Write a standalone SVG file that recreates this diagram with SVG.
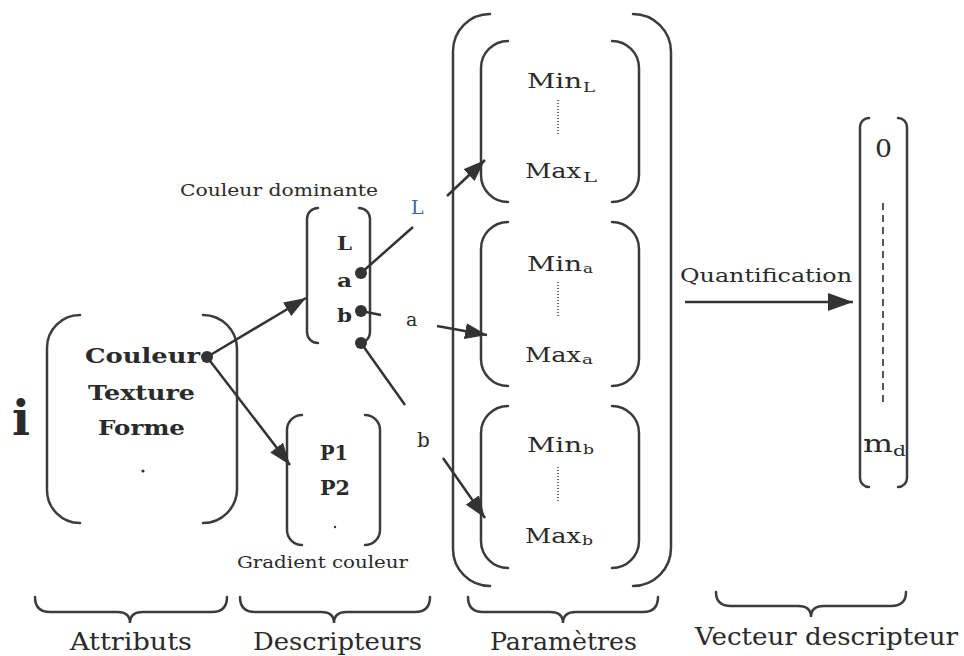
<svg xmlns="http://www.w3.org/2000/svg" width="964" height="656" viewBox="0 0 964 656">
  <defs>
    <style>
      .br { fill: none; stroke: #3c3c3c; stroke-width: 2.5; stroke-linecap: round; }
      .ln { fill: none; stroke: #333; stroke-width: 2.5; }
      .t  { font-family: "DejaVu Serif", "Liberation Serif", serif; fill: #2a2a2a; }
      .b  { font-weight: bold; }
      .dot { fill: #333; }
      .dots { stroke: #444; stroke-width: 1.6; stroke-dasharray: 1 2; }
    </style>
    <marker id="ah" markerUnits="userSpaceOnUse" markerWidth="24" markerHeight="16" refX="22" refY="8" orient="auto">
      <path d="M0,0 L22,8 L0,16 z" fill="#333"/>
    </marker>
    <marker id="ah2" markerUnits="userSpaceOnUse" markerWidth="26" markerHeight="18" refX="25" refY="9" orient="auto">
      <path d="M0,0 L25,9 L0,18 z" fill="#333"/>
    </marker>
  </defs>

  <rect width="964" height="656" fill="#fff"/>

  <!-- image symbol -->
  <text id="image-i" class="t b" x="12" y="435" font-size="48" textLength="18" lengthAdjust="spacingAndGlyphs">i</text>

  <!-- attribute vector -->
  <g id="attributs">
    <path class="br" d="M80,315 A33,33 0 0 0 47,348 V490 A33,33 0 0 0 80,523"/>
    <path class="br" d="M203,315 A34,34 0 0 1 237,349 V489 A34,34 0 0 1 203,523"/>
    <text class="t b" x="85" y="363" font-size="21" textLength="115" lengthAdjust="spacingAndGlyphs">Couleur</text>
    <text class="t b" x="88" y="400" font-size="21" textLength="107" lengthAdjust="spacingAndGlyphs">Texture</text>
    <text class="t b" x="98" y="435" font-size="21" textLength="87" lengthAdjust="spacingAndGlyphs">Forme</text>
    <circle class="dot" cx="143" cy="471" r="1.6"/>
  </g>

  <!-- dominant colour descriptor -->
  <g id="couleur-dominante">
    <text class="t" x="180" y="196" font-size="17" textLength="198" lengthAdjust="spacingAndGlyphs">Couleur dominante</text>
    <path class="br" d="M318,208 A11,11 0 0 0 307,219 V332 A11,11 0 0 0 318,343"/>
    <path class="br" d="M359,208 A11,11 0 0 1 370,219 V332 A11,11 0 0 1 359,343"/>
    <text class="t b" x="337" y="250" font-size="18" textLength="15" lengthAdjust="spacingAndGlyphs">L</text>
    <text class="t b" x="337" y="287" font-size="18" textLength="15" lengthAdjust="spacingAndGlyphs">a</text>
    <text class="t b" x="337" y="322" font-size="18" textLength="15" lengthAdjust="spacingAndGlyphs">b</text>
  </g>

  <!-- colour gradient descriptor -->
  <g id="gradient-couleur">
    <path class="br" d="M302,415 A15,15 0 0 0 287,430 V530 A15,15 0 0 0 302,545"/>
    <path class="br" d="M365,415 A15,15 0 0 1 380,430 V530 A15,15 0 0 1 365,545"/>
    <text class="t b" x="320" y="460" font-size="20" textLength="28" lengthAdjust="spacingAndGlyphs">P1</text>
    <text class="t b" x="320" y="495" font-size="20" textLength="30" lengthAdjust="spacingAndGlyphs">P2</text>
    <circle class="dot" cx="335" cy="527" r="1.2"/>
    <text class="t" x="237" y="568" font-size="17" textLength="171" lengthAdjust="spacingAndGlyphs">Gradient couleur</text>
  </g>

  <!-- parameter ranges -->
  <g id="parametres">
    <path class="br" d="M490,14 A37,37 0 0 0 453,51 V549 A37,37 0 0 0 490,586"/>
    <path class="br" d="M633,14 A38,38 0 0 1 671,52 V548 A38,38 0 0 1 633,586"/>

    <g id="param-L">
      <path class="br" d="M508,41 A27,27 0 0 0 481,68 V175 A27,27 0 0 0 508,202"/>
      <path class="br" d="M612,41 A27,27 0 0 1 639,68 V175 A27,27 0 0 1 612,202"/>
      <text class="t" x="527" y="88" font-size="21" textLength="55" lengthAdjust="spacingAndGlyphs">Min</text>
      <text class="t" x="583" y="92" font-size="12" textLength="12" lengthAdjust="spacingAndGlyphs">L</text>
      <line class="dots" x1="558" y1="100" x2="558" y2="135"/>
      <text class="t" x="525" y="178" font-size="21" textLength="56" lengthAdjust="spacingAndGlyphs">Max</text>
      <text class="t" x="583" y="182" font-size="12" textLength="14" lengthAdjust="spacingAndGlyphs">L</text>
    </g>

    <g id="param-a">
      <path class="br" d="M508,222 A27,27 0 0 0 481,249 V359 A27,27 0 0 0 508,386"/>
      <path class="br" d="M612,222 A27,27 0 0 1 639,249 V359 A27,27 0 0 1 612,386"/>
      <text class="t" x="527" y="271" font-size="21" textLength="55" lengthAdjust="spacingAndGlyphs">Min</text>
      <text class="t" x="583" y="273" font-size="13" textLength="10" lengthAdjust="spacingAndGlyphs">a</text>
      <line class="dots" x1="558" y1="282" x2="558" y2="316"/>
      <text class="t" x="525" y="362" font-size="21" textLength="56" lengthAdjust="spacingAndGlyphs">Max</text>
      <text class="t" x="582" y="364" font-size="13" textLength="11" lengthAdjust="spacingAndGlyphs">a</text>
    </g>

    <g id="param-b">
      <path class="br" d="M508,406 A27,27 0 0 0 481,433 V541 A27,27 0 0 0 508,568"/>
      <path class="br" d="M612,406 A27,27 0 0 1 639,433 V541 A27,27 0 0 1 612,568"/>
      <text class="t" x="527" y="452" font-size="21" textLength="55" lengthAdjust="spacingAndGlyphs">Min</text>
      <text class="t" x="583" y="454" font-size="13" textLength="11" lengthAdjust="spacingAndGlyphs">b</text>
      <line class="dots" x1="558" y1="467" x2="558" y2="502"/>
      <text class="t" x="525" y="543" font-size="21" textLength="56" lengthAdjust="spacingAndGlyphs">Max</text>
      <text class="t" x="582" y="545" font-size="13" textLength="11" lengthAdjust="spacingAndGlyphs">b</text>
    </g>
  </g>

  <!-- descriptor vector -->
  <g id="vecteur">
    <path class="br" d="M869,118 A9,9 0 0 0 860,127 V478 A9,9 0 0 0 869,487"/>
    <path class="br" d="M898,118 A9,9 0 0 1 907,127 V478 A9,9 0 0 1 898,487"/>
    <text class="t" x="875" y="157" font-size="24" textLength="17" lengthAdjust="spacingAndGlyphs">0</text>
    <line x1="883" y1="203" x2="883" y2="402" stroke="#444" stroke-width="1.8" stroke-dasharray="7 5"/>
    <text class="t" x="863" y="452" font-size="24" textLength="30" lengthAdjust="spacingAndGlyphs">m</text>
    <text class="t" x="893" y="456" font-size="15" textLength="13" lengthAdjust="spacingAndGlyphs">d</text>
  </g>

  <!-- connectors -->
  <g id="connecteurs">
    <line class="ln" x1="207" y1="357" x2="306" y2="298" marker-end="url(#ah)"/>
    <line class="ln" x1="207" y1="357" x2="290" y2="465" marker-end="url(#ah)"/>

    <!-- L channel -->
    <line class="ln" x1="361" y1="273" x2="413" y2="227"/>
    <text class="t" x="411" y="214" font-size="19" style="fill:#3f62a8">L</text>
    <line class="ln" x1="447" y1="196" x2="485" y2="160" marker-end="url(#ah)"/>

    <!-- a channel -->
    <line class="ln" x1="361" y1="311" x2="381" y2="315"/>
    <text class="t" x="406" y="326" font-size="19">a</text>
    <line class="ln" x1="437" y1="326" x2="487" y2="335" marker-end="url(#ah)"/>

    <!-- b channel -->
    <line class="ln" x1="361" y1="343" x2="405" y2="405"/>
    <text class="t" x="417" y="447" font-size="20">b</text>
    <line class="ln" x1="443" y1="458" x2="485" y2="518" marker-end="url(#ah)"/>

    <circle class="dot" cx="207" cy="357" r="6"/>
    <circle class="dot" cx="361" cy="273" r="6"/>
    <circle class="dot" cx="361" cy="311" r="6"/>
    <circle class="dot" cx="361" cy="343" r="6"/>

    <!-- quantification -->
    <text class="t" x="680" y="282" font-size="19" textLength="172" lengthAdjust="spacingAndGlyphs">Quantification</text>
    <line class="ln" x1="685" y1="302" x2="853" y2="302" marker-end="url(#ah2)"/>
  </g>

  <!-- column braces and captions -->
  <g id="legendes">
    <path class="br" d="M35,597 Q35,612 50,612 H117 Q130,612 130,623 Q130,612 143,612 H212 Q227,612 227,597"/>
    <path class="br" d="M240,597 Q240,612 255,612 H321 Q334,612 334,623 Q334,612 347,612 H415 Q430,612 430,597"/>
    <path class="br" d="M468,597 Q468,612 483,612 H550 Q563,612 563,623 Q563,612 576,612 H643 Q658,612 658,597"/>
    <path class="br" d="M716,592 Q716,606 731,606 H798 Q811,606 811,617 Q811,606 824,606 H891 Q906,606 906,592"/>
    <text class="t" x="70" y="650" font-size="25" textLength="122" lengthAdjust="spacingAndGlyphs">Attributs</text>
    <text class="t" x="253" y="650" font-size="25" textLength="169" lengthAdjust="spacingAndGlyphs">Descripteurs</text>
    <text class="t" x="490" y="650" font-size="25" textLength="147" lengthAdjust="spacingAndGlyphs">Paramètres</text>
    <text class="t" x="695" y="645" font-size="25" textLength="263" lengthAdjust="spacingAndGlyphs">Vecteur descripteur</text>
  </g>
</svg>
